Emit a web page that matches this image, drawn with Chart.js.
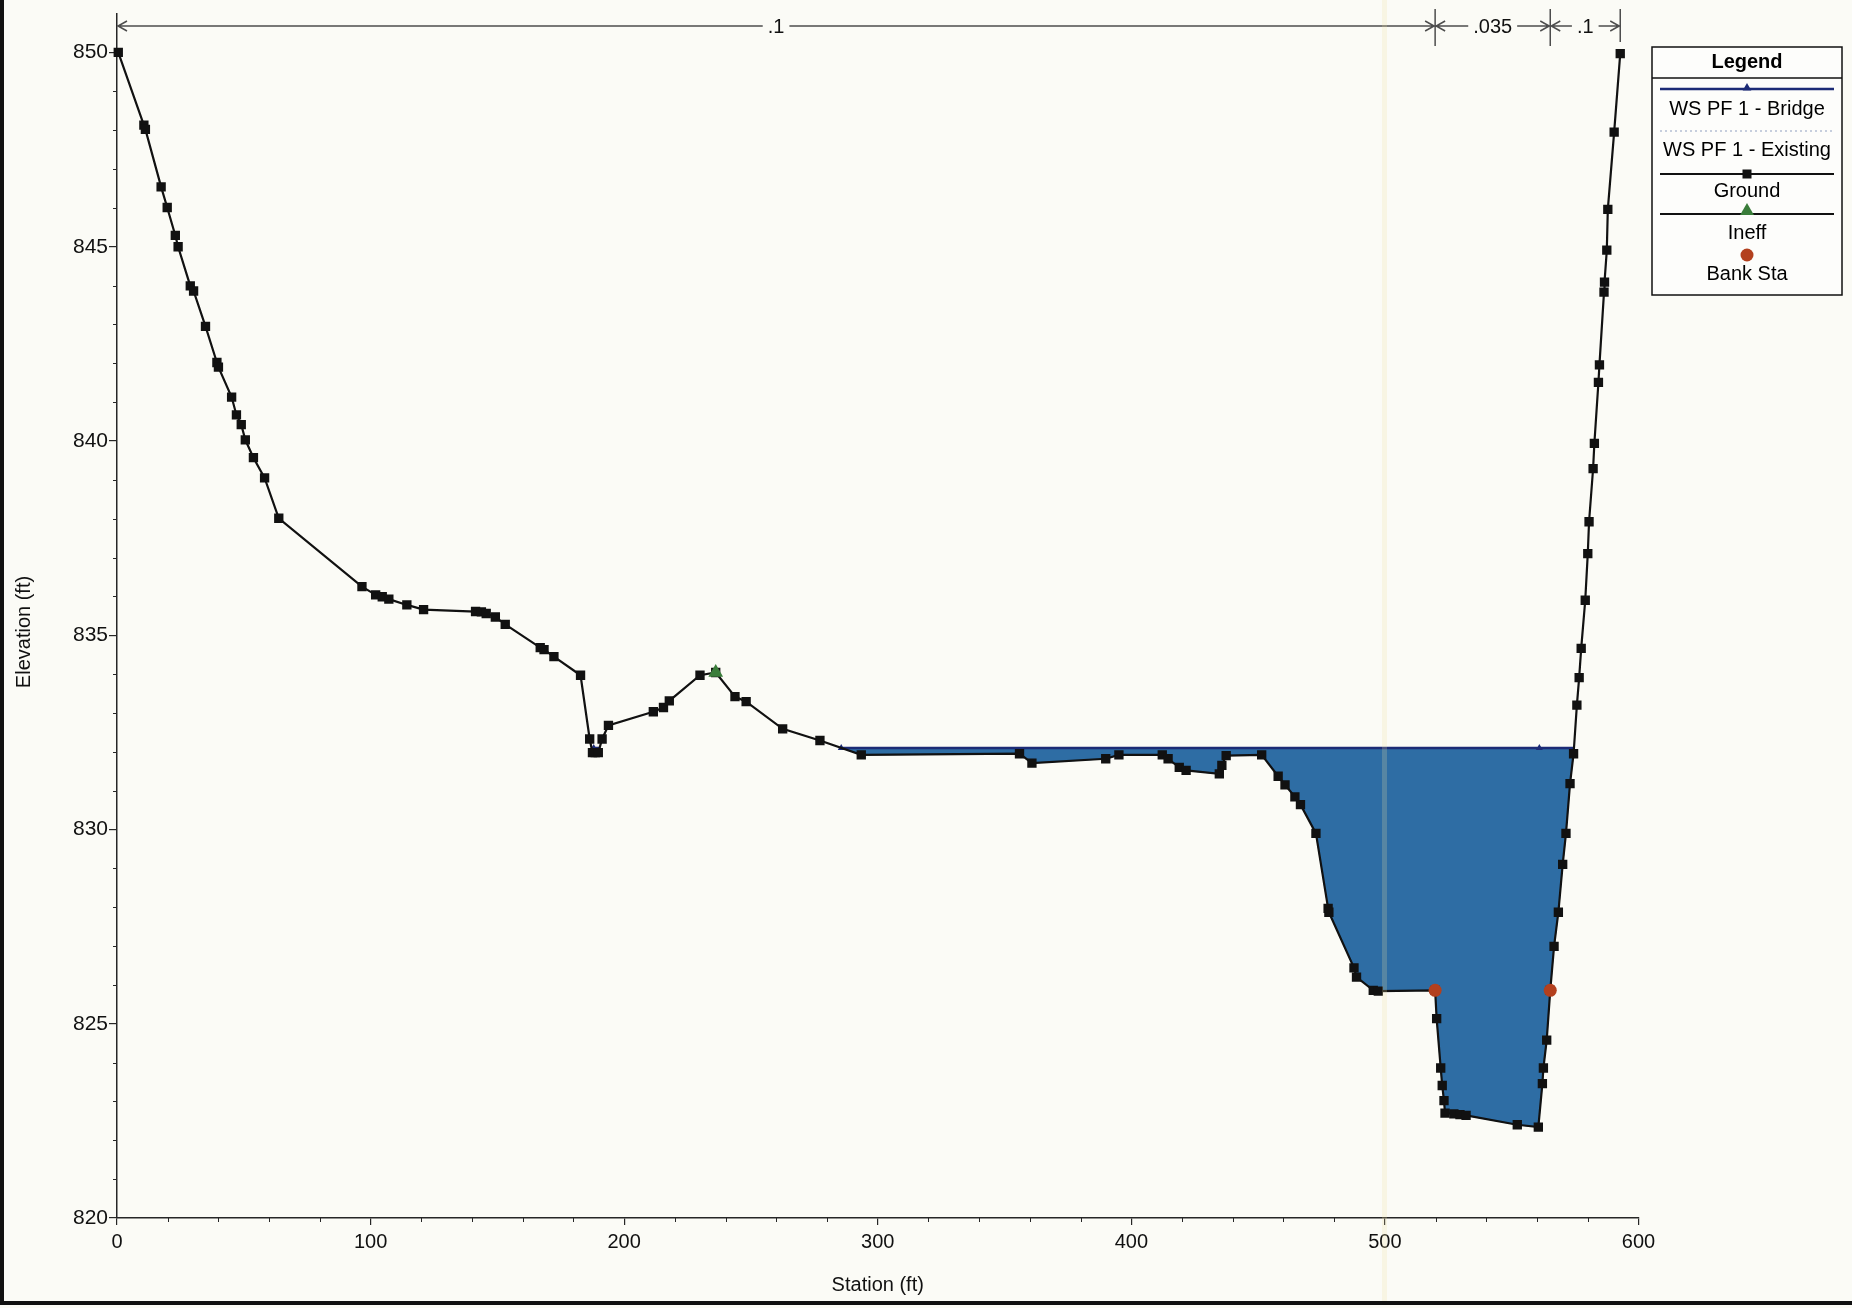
<!DOCTYPE html>
<html>
<head>
<meta charset="utf-8">
<title>Cross Section</title>
<script src="https://cdn.jsdelivr.net/npm/chart.js@4.4.1/dist/chart.umd.min.js"></script>
<style>
  html, body { margin: 0; padding: 0; background: #fbfbf6; }
  canvas { display: block; }
</style>
</head>
<body>
<canvas id="secao" width="1852" height="1308"></canvas>
<script>
// ground profile, station (ft) / elevation (ft)
const groundSta = [
  0.5, 10.6, 11.2, 17.4, 19.8, 23.0, 24.1, 28.9, 30.2, 34.9,
  39.4, 40.0, 45.2, 47.1, 49.0, 50.6, 53.8, 58.2, 63.8, 96.6,
  102.0, 104.6, 107.2, 114.3, 120.9, 141.4, 143.7, 145.6, 149.2, 153.1,
  166.9, 168.4, 172.3, 182.8, 186.4, 187.5, 188.6, 189.8, 191.3, 193.8,
  211.5, 215.5, 217.8, 229.9, 236.1, 243.7, 248.1, 262.5, 277.2, 293.5,
  355.9, 360.8, 389.9, 395.1, 412.2, 414.5, 418.9, 421.6, 434.7, 435.7,
  437.4, 451.4, 457.9, 460.6, 464.5, 466.7, 472.8, 477.6, 477.9, 487.8,
  488.8, 495.4, 497.4, 519.8, 520.4, 522.0, 522.6, 523.3, 523.7, 527.2,
  529.6, 532.0, 552.2, 560.5, 562.1, 562.5, 563.8, 565.2, 566.7, 568.4,
  570.1, 571.4, 573.0, 574.4, 575.7, 576.6, 577.4, 579.0, 580.0, 580.5,
  582.1, 582.6, 584.2, 584.6, 586.4, 586.6, 587.5, 587.9, 590.4, 592.8
];
const groundElev = [
  850.0, 848.13, 848.02, 846.54, 846.01, 845.29, 845.0, 843.99, 843.86, 842.95,
  842.02, 841.9, 841.13, 840.67, 840.42, 840.03, 839.57, 839.05, 838.01, 836.25,
  836.04, 835.99, 835.93, 835.78, 835.66, 835.61, 835.6, 835.56, 835.47, 835.28,
  834.68, 834.63, 834.45, 833.97, 832.33, 831.98, 831.98, 831.98, 832.33, 832.68,
  833.03, 833.14, 833.31, 833.97, 834.04, 833.42, 833.29, 832.59, 832.29, 831.92,
  831.95, 831.71, 831.82, 831.92, 831.92, 831.82, 831.6, 831.52, 831.43, 831.65,
  831.9, 831.92, 831.37, 831.15, 830.84, 830.64, 829.9, 827.97, 827.87, 826.44,
  826.2, 825.86, 825.84, 825.86, 825.13, 823.86, 823.41, 823.02, 822.7, 822.68,
  822.66, 822.64, 822.4, 822.34, 823.46, 823.86, 824.58, 825.86, 826.99, 827.87,
  829.1, 829.9, 831.18, 831.95, 833.2, 833.91, 834.66, 835.9, 837.1, 837.92,
  839.29, 839.94, 841.51, 841.96, 843.83, 844.09, 844.91, 845.96, 847.95, 849.97
];

// water surface PF 1 (bridge and existing runs sit at the same level)
const wsElev = 832.1;
const wsMarkSta = [188.0, 285.6, 560.9];

const ineffSta = [236.1];
const ineffElev = [834.04];

const bankSta = [519.8, 565.2];
const bankElev = [825.86, 825.86];

// Manning's n regions along the top
const nBreaks = [0, 519.8, 565.2, 592.8];
const nValues = ['.1', '.035', '.1'];

const stationTicks = [0, 100, 200, 300, 400, 500, 600];
const elevTicks = [820, 825, 830, 835, 840, 845, 850];

const FONT = "'Liberation Sans', Arial, Helvetica, sans-serif";
const NAVY = '#1c2b76';
const WATER = '#2e6da4';
const BANK = '#b3401e';
const INEFF = '#3a7d3a';
const AXIS = '#262626';

// wet stretches: clip the ground profile under the water surface
const wetParts = [];
let atual = null;
for (let i = 0; i < groundSta.length - 1; i++) {
  const s0 = groundSta[i], s1 = groundSta[i + 1];
  const e0 = groundElev[i], e1 = groundElev[i + 1];
  const cruza = () => s0 + (s1 - s0) * (wsElev - e0) / (e1 - e0);
  if (e0 >= wsElev && e1 < wsElev) atual = [{ x: cruza(), y: wsElev }];
  if (atual && e0 < wsElev && e1 >= wsElev) {
    atual.push({ x: cruza(), y: wsElev });
    wetParts.push(atual);
    atual = null;
  } else if (atual && e1 < wsElev) {
    atual.push({ x: s1, y: e1 });
  }
}

const waterData = [];
const wsData = [];
wetParts.forEach((p, k) => {
  const a = p[0].x, b = p[p.length - 1].x;
  if (k > 0) {
    waterData.push({ x: a - 0.01, y: null });
    wsData.push({ x: a - 0.01, y: null });
  }
  p.forEach(pt => waterData.push(pt));
  const linha = [{ x: a, y: wsElev }, { x: b, y: wsElev }];
  wsMarkSta.filter(s => s > a - 1 && s < b + 1).forEach(s => linha.push({ x: s, y: wsElev, m: true }));
  linha.sort((u, v) => u.x - v.x).forEach(pt => wsData.push(pt));
});

const groundData = groundSta.map((s, i) => ({ x: s, y: groundElev[i] }));
const ineffData = ineffSta.map((s, i) => ({ x: s, y: ineffElev[i] }));
const bankData = bankSta.map((s, i) => ({ x: s, y: bankElev[i] }));

function triangulo(ctx, cx, cy, r) {
  ctx.beginPath();
  ctx.moveTo(cx, cy - r);
  ctx.lineTo(cx + r * 0.866, cy + r * 0.5);
  ctx.lineTo(cx - r * 0.866, cy + r * 0.5);
  ctx.closePath();
  ctx.fill();
}

const fundo = {
  id: 'fundo',
  beforeDraw(chart) {
    const ctx = chart.ctx;
    ctx.save();
    ctx.fillStyle = '#fbfbf6';
    ctx.fillRect(0, 0, chart.width, chart.height);
    ctx.restore();
  }
};

// minor ticks every 1 ft and every 20 ft
const ticksMenores = {
  id: 'ticksMenores',
  afterDraw(chart) {
    const { x, y } = chart.scales;
    const ctx = chart.ctx;
    const area = chart.chartArea;
    ctx.save();
    ctx.strokeStyle = AXIS;
    ctx.lineWidth = 1;
    ctx.beginPath();
    for (let v = 821; v < 850; v++) {
      if (v % 5 === 0) continue;
      const py = Math.round(y.getPixelForValue(v)) + 0.5;
      ctx.moveTo(area.left - 4, py);
      ctx.lineTo(area.left, py);
    }
    for (let v = 20; v < 600; v += 20) {
      if (v % 100 === 0) continue;
      const px = Math.round(x.getPixelForValue(v)) + 0.5;
      ctx.moveTo(px, area.bottom);
      ctx.lineTo(px, area.bottom + 4);
    }
    ctx.stroke();
    ctx.restore();
  }
};

const titulosEixos = {
  id: 'titulosEixos',
  afterDraw(chart) {
    const ctx = chart.ctx;
    const area = chart.chartArea;
    ctx.save();
    ctx.fillStyle = '#111';
    ctx.font = '20px ' + FONT;
    ctx.textAlign = 'center';
    ctx.textBaseline = 'middle';
    ctx.fillText('Station (ft)', (area.left + area.right) / 2, 1285);
    ctx.translate(24, 632);
    ctx.rotate(-Math.PI / 2);
    ctx.fillText('Elevation (ft)', 0, 0);
    ctx.restore();
  }
};

// n value bands with dimension arrows above the plot
const faixasN = {
  id: 'faixasN',
  afterDatasetsDraw(chart) {
    const xs = chart.scales.x;
    const ctx = chart.ctx;
    const yl = 26;
    const px = nBreaks.map(v => xs.getPixelForValue(v));
    ctx.save();
    ctx.strokeStyle = '#4d4d4d';
    ctx.lineWidth = 1.5;
    ctx.fillStyle = '#111';
    ctx.font = '20px ' + FONT;
    ctx.textAlign = 'center';
    ctx.textBaseline = 'middle';
    ctx.beginPath();
    for (let i = 1; i < px.length; i++) {
      ctx.moveTo(px[i], 9);
      ctx.lineTo(px[i], i === px.length - 1 ? 42 : 46);
    }
    for (let i = 0; i < nValues.length; i++) {
      const a = px[i], b = px[i + 1], meio = (a + b) / 2;
      const tw = ctx.measureText(nValues[i]).width / 2 + 5;
      ctx.moveTo(a, yl); ctx.lineTo(meio - tw, yl);
      ctx.moveTo(meio + tw, yl); ctx.lineTo(b, yl);
      ctx.moveTo(a + 10, yl - 5); ctx.lineTo(a + 1, yl); ctx.lineTo(a + 10, yl + 5);
      ctx.moveTo(b - 10, yl - 5); ctx.lineTo(b - 1, yl); ctx.lineTo(b - 10, yl + 5);
    }
    ctx.stroke();
    nValues.forEach((t, i) => ctx.fillText(t, (px[i] + px[i + 1]) / 2, yl + 1));
    ctx.restore();
  }
};

const legenda = {
  id: 'legenda',
  afterDraw(chart) {
    const ctx = chart.ctx;
    const bx = 1652, by = 47, bw = 190, bh = 248;
    const cx = bx + bw / 2;
    const x0 = bx + 8, x1 = bx + bw - 8;
    ctx.save();
    ctx.fillStyle = '#fdfdfb';
    ctx.fillRect(bx, by, bw, bh);
    ctx.strokeStyle = '#111';
    ctx.lineWidth = 1.5;
    ctx.strokeRect(bx, by, bw, bh);
    ctx.beginPath();
    ctx.moveTo(bx, by + 31); ctx.lineTo(bx + bw, by + 31);
    ctx.stroke();

    ctx.fillStyle = '#000';
    ctx.textAlign = 'center';
    ctx.textBaseline = 'middle';
    ctx.font = 'bold 20px ' + FONT;
    ctx.fillText('Legend', cx, by + 15);

    // WS PF 1 - Bridge
    ctx.strokeStyle = NAVY; ctx.lineWidth = 2.5;
    ctx.beginPath(); ctx.moveTo(x0, 89); ctx.lineTo(x1, 89); ctx.stroke();
    ctx.fillStyle = NAVY; triangulo(ctx, cx, 88, 5);
    // WS PF 1 - Existing
    ctx.strokeStyle = '#8f9fc0'; ctx.lineWidth = 1.2; ctx.setLineDash([2, 3]);
    ctx.beginPath(); ctx.moveTo(x0, 131); ctx.lineTo(x1, 131); ctx.stroke();
    ctx.setLineDash([]);
    // Ground
    ctx.strokeStyle = '#111'; ctx.lineWidth = 2;
    ctx.beginPath(); ctx.moveTo(x0, 174); ctx.lineTo(x1, 174); ctx.stroke();
    ctx.fillStyle = '#111'; ctx.fillRect(cx - 4.5, 169.5, 9, 9);
    // Ineff
    ctx.beginPath(); ctx.moveTo(x0, 214); ctx.lineTo(x1, 214); ctx.stroke();
    ctx.fillStyle = INEFF; triangulo(ctx, cx, 211, 8);
    // Bank Sta
    ctx.fillStyle = BANK;
    ctx.beginPath(); ctx.arc(cx, 255, 6.5, 0, Math.PI * 2); ctx.fill();

    ctx.fillStyle = '#000';
    ctx.font = '20px ' + FONT;
    ctx.fillText('WS PF 1 - Bridge', cx, 109);
    ctx.fillText('WS PF 1 - Existing', cx, 150);
    ctx.fillText('Ground', cx, 191);
    ctx.fillText('Ineff', cx, 233);
    ctx.fillText('Bank Sta', cx, 274);
    ctx.restore();
  }
};

// page frame and the faint vertical streak across the sheet
const moldura = {
  id: 'moldura',
  afterDraw(chart) {
    const ctx = chart.ctx;
    ctx.save();
    ctx.fillStyle = 'rgba(235, 225, 160, 0.22)';
    ctx.fillRect(1382, 0, 5, 1301);
    ctx.fillStyle = '#111';
    ctx.fillRect(0, 0, 4, 1305);
    ctx.fillRect(0, 1301, chart.width, 4);
    ctx.restore();
  }
};

Chart.defaults.font.family = FONT;

new Chart(document.getElementById('secao'), {
  type: 'scatter',
  data: {
    datasets: [
      {
        label: 'Bank Sta',
        data: bankData,
        showLine: false,
        pointStyle: 'circle',
        pointRadius: 6.5,
        backgroundColor: BANK,
        borderColor: BANK,
        borderWidth: 0,
        order: 1
      },
      {
        label: 'Ineff',
        data: ineffData,
        showLine: false,
        pointStyle: 'triangle',
        pointRadius: 8.5,
        backgroundColor: INEFF,
        borderColor: INEFF,
        borderWidth: 0,
        order: 2
      },
      {
        label: 'Ground',
        data: groundData,
        showLine: true,
        borderColor: '#111',
        borderWidth: 2.2,
        pointStyle: 'rect',
        pointRadius: 6.6,
        pointBackgroundColor: '#111',
        pointBorderWidth: 0,
        clip: 8,
        order: 3
      },
      {
        label: 'WS PF 1 - Bridge',
        data: wsData,
        showLine: true,
        borderColor: NAVY,
        borderWidth: 2.5,
        pointStyle: 'triangle',
        pointRadius: c => (c.raw && c.raw.m ? 4 : 0),
        pointBackgroundColor: NAVY,
        pointBorderWidth: 0,
        order: 4
      },
      {
        label: 'WS PF 1 - Existing',
        data: wsData,
        showLine: true,
        borderColor: '#8f9fc0',
        borderWidth: 1,
        borderDash: [2, 3],
        pointRadius: 0,
        order: 5
      },
      {
        label: 'agua',
        data: waterData,
        showLine: true,
        fill: 'shape',
        backgroundColor: WATER,
        borderColor: WATER,
        borderWidth: 1,
        pointRadius: 0,
        order: 6
      }
    ]
  },
  options: {
    responsive: false,
    animation: false,
    devicePixelRatio: 1,
    events: [],
    layout: { padding: { left: 0, right: 213.5, top: 8, bottom: 0 } },
    plugins: {
      legend: { display: false },
      tooltip: { enabled: false }
    },
    scales: {
      x: {
        type: 'linear',
        min: 0,
        max: 600,
        afterBuildTicks: s => { s.ticks = stationTicks.map(v => ({ value: v })); },
        afterFit: s => { s.height = 90; },
        grid: { drawOnChartArea: false, drawTicks: true, tickLength: 7, color: AXIS, lineWidth: 1.2 },
        border: { display: true, color: AXIS, width: 1.5 },
        ticks: { autoSkip: false, maxRotation: 0, color: '#111', font: { size: 20 }, padding: 5 }
      },
      y: {
        type: 'linear',
        min: 820,
        max: 851,
        afterBuildTicks: s => { s.ticks = elevTicks.map(v => ({ value: v })); },
        afterFit: s => { s.width = 117; },
        grid: { drawOnChartArea: false, drawTicks: true, tickLength: 8, color: AXIS, lineWidth: 1.2 },
        border: { display: true, color: AXIS, width: 1.5 },
        ticks: { autoSkip: false, color: '#111', font: { size: 21 }, padding: 1 }
      }
    }
  },
  plugins: [fundo, ticksMenores, titulosEixos, faixasN, legenda, moldura]
});
</script>
</body>
</html>
